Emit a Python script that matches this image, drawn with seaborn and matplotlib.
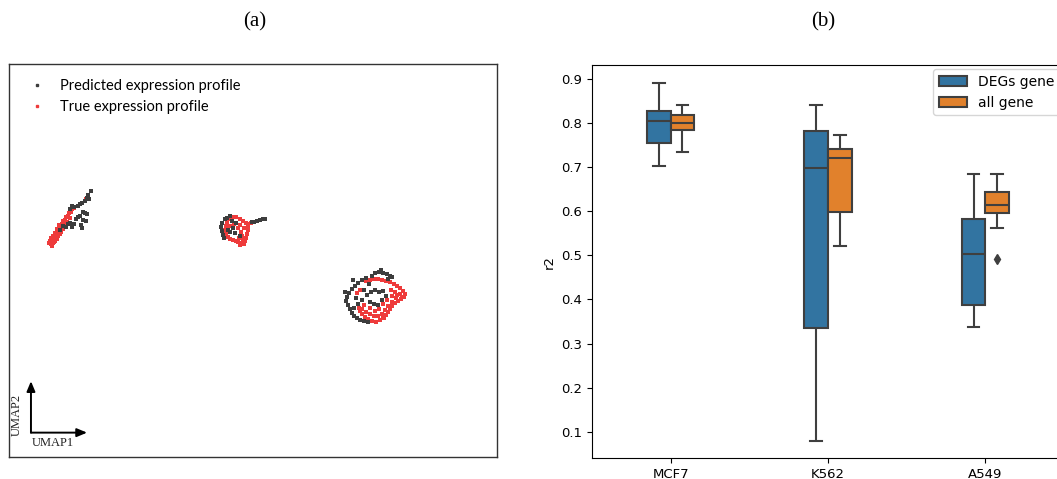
import numpy as np
import pandas as pd
import matplotlib
matplotlib.use("Agg")
import matplotlib.pyplot as plt
from matplotlib.lines import Line2D
import seaborn as sns

# ---------------- data: panel (a) UMAP embedding (reference-frame coordinates) ----------------
pred_u1 = [91, 88, 87, 85, 82, 80, 78, 74, 72, 70, 85, 83, 87, 80, 78, 76, 83, 81, 74, 70, 68, 72, 66, 63, 60, 82, 86, 89,
           222, 221, 222, 223, 225, 227, 230, 228, 230, 235, 236, 233, 240, 252, 254, 257, 260, 263, 265, 224, 232,
           375, 379, 383, 387, 390, 388, 372, 366, 362, 358, 355, 352, 349, 347, 346, 348, 350, 352, 354, 357, 360, 364,
           368, 356, 358, 364, 367, 371, 375, 379, 383, 386, 370, 374, 378, 382, 362, 354, 345, 353, 369, 381, 392]
pred_u2 = [191, 195, 198, 201, 203, 204, 206, 207, 206, 209, 213, 212, 214, 216, 217, 219, 220, 225, 224, 223, 224, 227, 227, 226, 230, 228, 221, 199,
           223, 227, 231, 235, 219, 218, 216, 230, 232, 233, 223, 228, 236, 222, 222, 221, 220, 219, 219, 238, 221,
           273, 272, 273, 274, 276, 279, 276, 278, 280, 283, 286, 289, 293, 297, 301, 305, 309, 313, 316, 318, 320, 321,
           322, 298, 304, 290, 295, 292, 290, 292, 291, 296, 302, 304, 305, 300, 300, 308, 292, 280, 284, 270, 277]

true_u1 = [51, 52, 54, 56, 53, 55, 58, 57, 60, 59, 62, 63, 65, 66, 68, 69, 71, 72, 74, 55, 58, 61, 64, 50, 53, 57, 60, 63, 67, 70, 86, 88, 54, 52,
           56, 59, 62, 51, 49, 61, 65,
           228, 232, 236, 240, 243, 246, 248, 248, 247, 246, 245, 244, 241, 238, 236, 233, 230, 228, 226, 225, 226, 227, 230, 234, 238, 241, 242,
           239, 244, 248, 251, 240, 243, 240,
           366, 370, 374, 378, 382, 386, 390, 394, 397, 400, 403, 405, 404, 401, 398, 395, 392, 390, 388, 386, 383, 380, 376, 372, 368, 365, 362,
           360, 359, 362, 366, 370, 374, 378, 382, 385, 388, 392, 396, 400, 395, 391, 397, 392, 387, 383, 379, 375, 370, 364, 360, 357, 402, 384]
true_u2 = [244, 240, 238, 236, 236, 233, 232, 229, 228, 225, 224, 221, 220, 217, 216, 213, 212, 209, 208, 241, 236, 231, 226, 241, 243, 239, 234, 229, 222, 218, 199, 196, 242, 246,
           238, 233, 228, 238, 243, 232, 224,
           219, 217, 217, 219, 221, 223, 226, 230, 234, 238, 241, 244, 243, 242, 241, 240, 239, 237, 234, 230, 226, 222, 226, 224, 228, 232, 236,
           238, 228, 224, 223, 225, 239, 245,
           281, 280, 279, 279, 280, 281, 282, 284, 286, 288, 291, 294, 297, 299, 301, 303, 306, 309, 312, 315, 318, 320, 322, 321, 319, 317, 314,
           311, 308, 309, 312, 314, 316, 316, 314, 310, 306, 302, 298, 294, 292, 290, 295, 296, 300, 304, 309, 311, 308, 305, 290, 293, 297, 318]

profile_labels = ["Predicted expression profile", "True expression profile"]

# ---------------- data: panel (b) r2 per cell line ----------------
cell_lines = ["MCF7", "K562", "A549"]
gene_sets = ["DEGs gene", "all gene"]
r2_mcf7_degs = [0.703, 0.735, 0.755, 0.780, 0.804, 0.815, 0.826, 0.860, 0.891]
r2_mcf7_all = [0.733, 0.765, 0.783, 0.790, 0.799, 0.806, 0.818, 0.830, 0.840]
r2_k562_degs = [0.080, 0.200, 0.336, 0.550, 0.698, 0.750, 0.781, 0.810, 0.841]
r2_k562_all = [0.522, 0.560, 0.599, 0.680, 0.721, 0.730, 0.741, 0.760, 0.772]
r2_a549_degs = [0.337, 0.360, 0.388, 0.450, 0.503, 0.550, 0.582, 0.630, 0.685]
r2_a549_all = [0.491, 0.562, 0.596, 0.605, 0.614, 0.630, 0.644, 0.670, 0.685]

# ---------------- build frames ----------------
umap_df = pd.concat([
    pd.DataFrame({"UMAP1": true_u1, "UMAP2": true_u2, "profile": profile_labels[1]}),
    pd.DataFrame({"UMAP1": pred_u1, "UMAP2": pred_u2, "profile": profile_labels[0]}),
], ignore_index=True)

groups = {
    ("MCF7", "DEGs gene"): r2_mcf7_degs, ("MCF7", "all gene"): r2_mcf7_all,
    ("K562", "DEGs gene"): r2_k562_degs, ("K562", "all gene"): r2_k562_all,
    ("A549", "DEGs gene"): r2_a549_degs, ("A549", "all gene"): r2_a549_all,
}
rows = []
for (cl, gs), vals in groups.items():
    for v in vals:
        rows.append({"cell": cl, "set": gs, "r2": v})
box_df = pd.DataFrame(rows)

# ---------------- figure ----------------
W, H = 1057, 479
fig = plt.figure(figsize=(W / 100, H / 100), dpi=100)

# panel (a)
ax1 = fig.add_axes([9 / W, 1 - 457 / H, 488 / W, 393 / H])
pal_a = {profile_labels[0]: "#3d3d3d", profile_labels[1]: "#ee3b3b"}
sns.scatterplot(data=umap_df, x="UMAP1", y="UMAP2", hue="profile", palette=pal_a,
                s=10, marker="s", linewidth=0, legend=False, ax=ax1)
ax1.set_xlim(9, 497)
ax1.set_ylim(457, 64)
ax1.set_xticks([])
ax1.set_yticks([])
ax1.set_xlabel("")
ax1.set_ylabel("")
for sp in ax1.spines.values():
    sp.set_color("#333333")
    sp.set_linewidth(1.0)

handles = [Line2D([], [], marker="s", ls="", color=pal_a[l], markersize=1.6) for l in profile_labels]
ax1.legend(handles, profile_labels, loc="upper left", bbox_to_anchor=(0.0, 0.995), frameon=False,
           prop={"family": "Lato", "size": 10.5}, handletextpad=0.6, labelspacing=0.45)

# UMAP arrows
arrow = dict(arrowstyle="-|>,head_length=0.6,head_width=0.25", color="black", lw=1.4,
             shrinkA=0, shrinkB=0)
ax1.annotate("", xy=(0.045, 0.193), xytext=(0.045, 0.062), xycoords="axes fraction", arrowprops=arrow)
ax1.annotate("", xy=(0.160, 0.062), xytext=(0.045, 0.062), xycoords="axes fraction", arrowprops=arrow)
ax1.text(0.089, 0.035, "UMAP1", transform=ax1.transAxes, ha="center", va="center",
         family="Liberation Serif", fontsize=9, color="#222222")
ax1.text(0.016, 0.106, "UMAP2", transform=ax1.transAxes, ha="center", va="center", rotation=90,
         family="Liberation Serif", fontsize=9, color="#222222")

# panel (b)
ax2 = fig.add_axes([592 / W, 1 - 458.3 / H, 472 / W, 393.3 / H])
line_gray = "#3f3f3f"
sns.boxplot(data=box_df, x="cell", y="r2", hue="set", order=cell_lines, hue_order=gene_sets,
            palette=["#1f77b4", "#ff7f0e"], saturation=0.75, width=0.3, gap=0,
            linecolor=line_gray, linewidth=1.5,
            flierprops=dict(marker="d", markerfacecolor=line_gray, markeredgecolor=line_gray, markersize=5),
            ax=ax2)
ax2.set_ylim(0.040, 0.931)
ax2.set_yticks([0.1, 0.2, 0.3, 0.4, 0.5, 0.6, 0.7, 0.8, 0.9])
ax2.set_xlabel("")
ax2.set_ylabel("r2", fontsize=9.5)
ax2.tick_params(labelsize=9.5)
h, l = ax2.get_legend_handles_labels()
ax2.legend(h, l, loc="upper right", fontsize=10, borderaxespad=0.3)

# panel titles
fig.text(255 / W, 1 - 22 / H, "(a)", ha="center", va="center", family="Liberation Serif", fontsize=15)
fig.text(823 / W, 1 - 22 / H, "(b)", ha="center", va="center", family="Liberation Serif", fontsize=15)

fig.savefig("out.png", dpi=100)
